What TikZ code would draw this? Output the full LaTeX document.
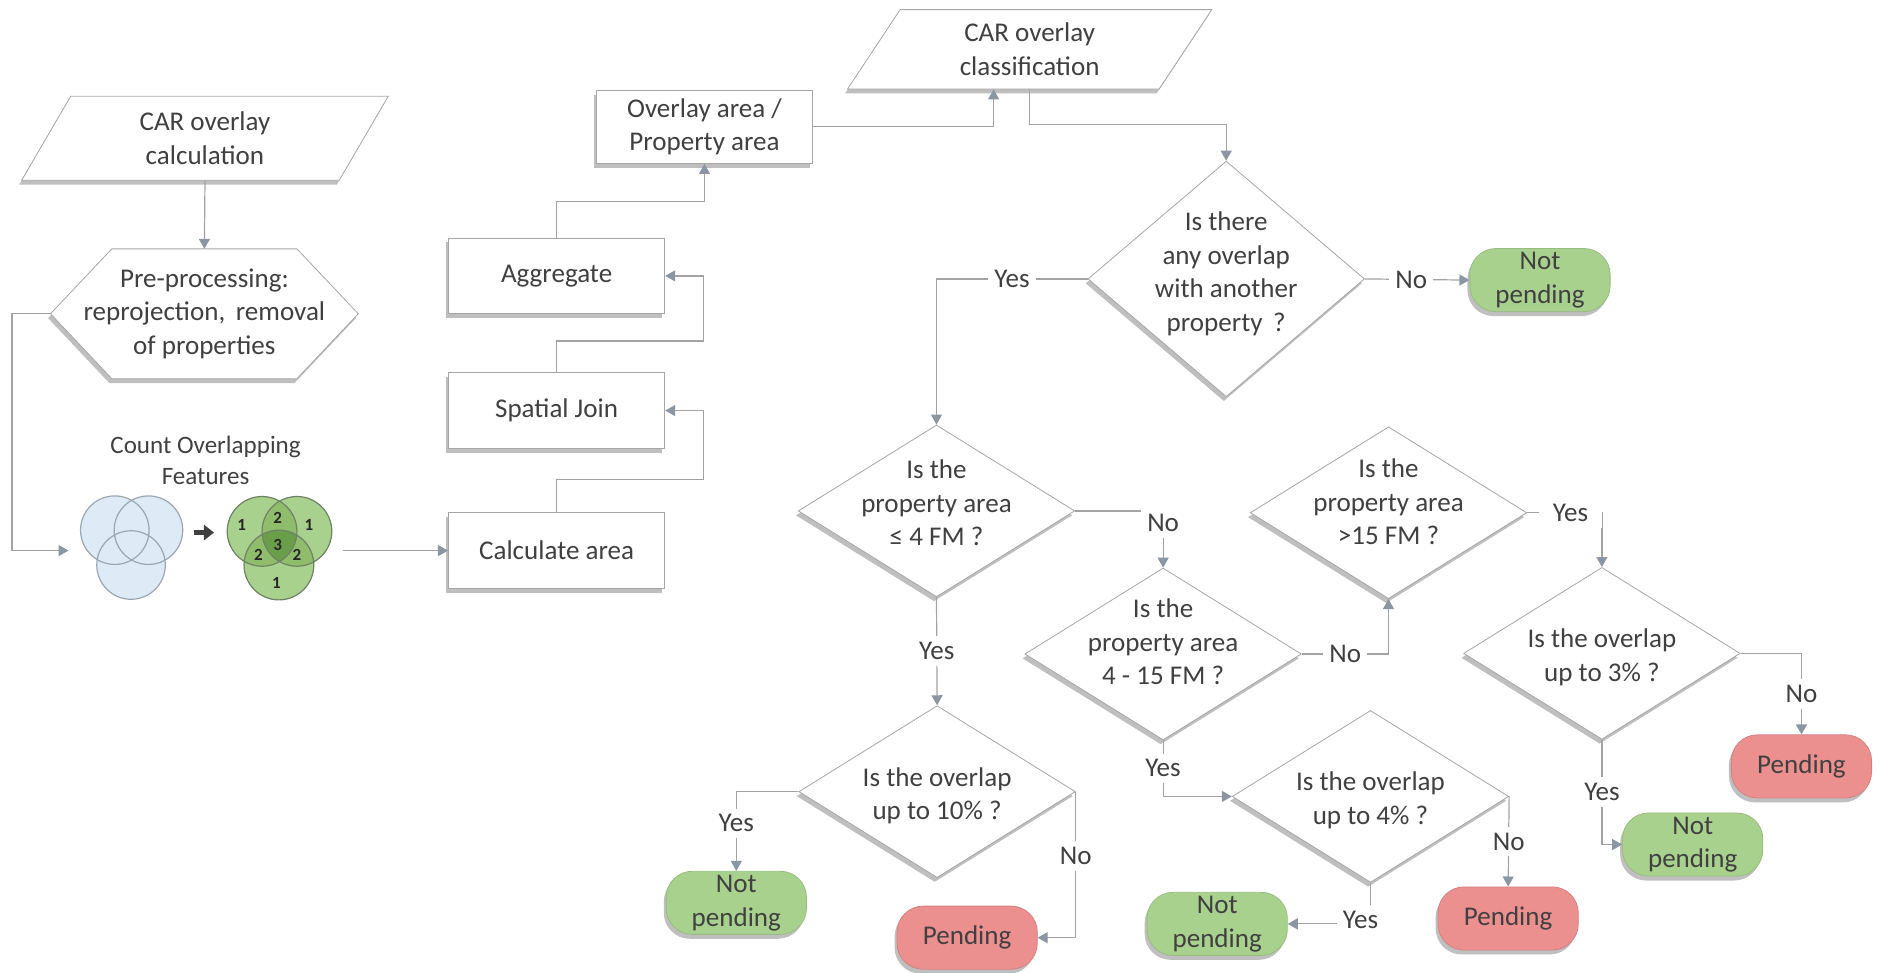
\documentclass[tikz,border=0pt]{standalone}
\usepackage{fontspec}
\setmainfont{Carlito}
\usetikzlibrary{shapes.geometric,arrows.meta,shadows,calc}
\definecolor{txt}{HTML}{404040}
\definecolor{bord}{HTML}{A6A6A6}
\definecolor{linec}{HTML}{A3A3A3}
\definecolor{arrowc}{HTML}{8A96A2}
\definecolor{greenf}{HTML}{A9D18E}
\definecolor{redf}{HTML}{EC8F8F}
\definecolor{bluef}{HTML}{DEEBF7}
\definecolor{blueb}{HTML}{9AA7B3}
\definecolor{gone}{HTML}{A9D18E}
\definecolor{gtwo}{HTML}{8FBD6C}
\definecolor{gthree}{HTML}{6B9E4A}
\definecolor{gbord}{HTML}{6E8264}
\begin{document}
\begin{tikzpicture}[x=0.6pt,y=-0.6pt,
  font=\fontsize{13.5}{16.8}\selectfont, text=txt,
  shad/.style={drop shadow={shadow xshift=-1.2pt,shadow yshift=-2.2pt,fill=black,opacity=.25}},
  box/.style={rectangle, draw=bord, fill=white, shad, minimum width=108pt, minimum height=37.8pt, align=center, inner sep=0pt},
  para/.style={trapezium, trapezium stretches body, draw=bord, fill=white, shad, align=center, inner sep=0pt},
  dia/.style={diamond, draw=bord, fill=white, shad, minimum width=138pt, minimum height=85.8pt, inner sep=0pt},
  dtext/.style={align=center},
  term/.style={rectangle, rounded corners=13pt, minimum width=70pt, minimum height=31.5pt, align=center, inner sep=0pt, shad},
  gterm/.style={term, fill=greenf, draw=greenf!90!black},
  rterm/.style={term, fill=redf, draw=redf!90!black},
  conn/.style={draw=linec, line width=0.6pt},
  arr/.style={conn, -{Triangle[length=5pt,width=5.5pt,color=arrowc]}},
  lbl/.style={fill=white, inner sep=3pt},
  num/.style={font=\fontsize{8.5}{10}\selectfont\bfseries, text=black!85, inner sep=0pt},
]
\useasboundingbox (0,0) rectangle (1568,809);

% left column
\node[para, trapezium left angle=47, trapezium right angle=133, minimum width=183pt, minimum height=42pt] (calc1) at (170.5,115) {CAR overlay\\calculation};
\coordinate (hexc) at (170,261);
\coordinate (hexW) at ($(hexc)+(-128,0)$);
\coordinate (hexN) at ($(hexc)+(0,-54)$);
\filldraw[draw=bord, fill=white, shad] (hexW) -- ($(hexc)+(-77,-54)$) -- ($(hexc)+(77,-54)$) -- ($(hexc)+(128,0)$) -- ($(hexc)+(77,54)$) -- ($(hexc)+(-77,54)$) -- cycle;
\node[align=center, inner sep=0pt] (hex) at (hexc) {Pre-processing:\\reprojection,\, removal\\of properties};
\node[font=\fontsize{12.5}{15.6}\selectfont, align=center] (cof) at (171,383) {Count Overlapping\\Features};

% Venn blue
\fill[bluef] (95.5,441) circle[radius=28.5];
\fill[bluef] (123.5,441) circle[radius=28.5];
\fill[bluef] (109,470) circle[radius=28.5];
\draw[blueb, line width=0.6pt] (95.5,441) circle[radius=28.5] (123.5,441) circle[radius=28.5] (109,470) circle[radius=28.5];
% small black arrow
\coordinate (va) at (161,443);
\coordinate (vb) at (178,443);
\draw[line width=2.6pt, draw=black!75, -{Triangle[length=5pt,width=7.5pt,color=black!75]}] (va) -- (vb);
% Venn green
\fill[gone] (218,442) circle[radius=29];
\fill[gone] (247,442) circle[radius=29];
\fill[gone] (232,470) circle[radius=29];
\begin{scope}
  \clip (218,442) circle[radius=29];
  \fill[gtwo] (247,442) circle[radius=29];
  \fill[gtwo] (232,470) circle[radius=29];
\end{scope}
\begin{scope}
  \clip (247,442) circle[radius=29];
  \fill[gtwo] (232,470) circle[radius=29];
\end{scope}
\begin{scope}
  \clip (218,442) circle[radius=29];
  \clip (247,442) circle[radius=29];
  \fill[gthree] (232,470) circle[radius=29];
\end{scope}
\draw[gbord, line width=0.6pt] (218,442) circle[radius=29] (247,442) circle[radius=29] (232,470) circle[radius=29];
\node[num] (n1) at (201,437) {1};
\node[num] (n2) at (231,431) {2};
\node[num] (n3) at (257,437) {1};
\node[num] (n4) at (215,462) {2};
\node[num] (n5) at (231,453) {3};
\node[num] (n6) at (247,462) {2};
\node[num] (n7) at (230,485) {1};
\coordinate (vennL) at (57,458);
\coordinate (vennR) at (285,458);

% process boxes
\node[box] (agg) at (463,229.5) {Aggregate};
\node[box] (spatial) at (463,341.5) {Spatial Join};
\node[box] (calc) at (463,458) {Calculate area};
\node[box, minimum height=36.6pt] (overlay) at (586,105.5) {Overlay area /\\Property area};
\node[para, trapezium left angle=45, trapezium right angle=135, minimum width=181.8pt, minimum height=39.6pt] (class) at (856.5,41) {CAR overlay\\classification};

% decisions
\node[dia, minimum height=117.6pt] (d1) at (1020,232) {};
\node[dtext, yshift=2.5pt] (t1) at (d1.center) {Is there\\any overlap\\with another\\property\, ?};
\node[dia] (d2) at (779,425) {};
\node[dtext, yshift=4pt] (t2) at (d2.center) {Is the\\property area\\≤ 4 FM ?};
\node[dia] (d3) at (967.5,544) {};
\node[dtext, yshift=6pt] (t3) at (d3.center) {Is the\\property area\\4 - 15 FM ?};
\node[dia] (d4) at (1155,426.5) {};
\node[dtext, yshift=5.5pt] (t4) at (d4.center) {Is the\\property area\\>15 FM ?};
\node[dia] (d5) at (1332.5,543.5) {};
\node[dtext, yshift=-2pt] (t5) at (d5.center) {Is the overlap\\up to 3\% ?};
\node[dia] (d6) at (1140,662.5) {};
\node[dtext, yshift=-2pt] (t6) at (d6.center) {Is the overlap\\up to 4\% ?};
\node[dia] (d7) at (779.5,658.5) {};
\node[dtext, yshift=-2pt] (t7) at (d7.center) {Is the overlap\\up to 10\% ?};

% terminals
\node[gterm] (np1) at (1281,233) {Not\\pending};
\node[gterm] (np2) at (1408,702.5) {Not\\pending};
\node[gterm] (np3) at (1012.5,768.5) {Not\\pending};
\node[gterm] (np4) at (612.5,751) {Not\\pending};
\node[rterm] (pe1) at (804.5,780) {Pending};
\node[rterm] (pe2) at (1498.5,637.5) {Pending};
\node[rterm] (pe3) at (1254.5,764) {Pending};

% connectors left part
\draw[arr] (calc1.south) -- (hexN);
\draw[arr] (hexW) -- ++(-32,0) |- (vennL);
\draw[arr] (vennR) -- (calc.west);
\draw[arr] (calc.north) -- ++(0,-27) -| ($(spatial.east)+(32,0)$) -- (spatial.east);
\draw[arr] (spatial.north) -- ++(0,-26) -| ($(agg.east)+(32,0)$) -- (agg.east);
\draw[arr] (agg.north) -- ++(0,-30) -| (overlay.south);
\draw[arr] (overlay.east) -| ($(class.south)+(-30,0)$);
\draw[arr] (class.south) -- ++(0,29) -| (d1.north);

% decision connectors
\draw[arr] (d1.east) -- (np1.west) node[lbl, midway, xshift=-3pt] {No};
\draw[arr] (d1.west) -| (d2.north) node[lbl, pos=0.25] {Yes};
\draw[arr] (d2.east) -| (d3.north) node[lbl, pos=0.5, yshift=-6pt] {No};
\draw[arr] (d2.south) -- (d7.north) node[lbl, midway] {Yes};
\draw[arr] (d3.east) -| (d4.south) node[lbl, pos=0.25] {No};
\draw[arr] (d3.south) |- (d6.west) node[lbl, pos=0.25] {Yes};
\draw[arr] (d4.east) -| (d5.north) node[lbl, pos=0.29, inner xsep=7pt] {Yes};
\draw[arr] (d5.east) -| (pe2.north) node[lbl, pos=0.75] {No};
\draw[arr] (d5.south) |- (np2.west) node[lbl, pos=0.25] {Yes};
\draw[arr] (d6.east) -- (pe3.north) node[lbl, midway] {No};
\draw[arr] (d6.south) |- (np3.east) node[lbl, pos=0.5, xshift=-5pt, yshift=2pt] {Yes};
\draw[arr] (d7.west) -| (np4.north) node[lbl, pos=0.7] {Yes};
\draw[arr] (d7.east) |- (pe1.east) node[lbl, pos=0.22] {No};
\end{tikzpicture}
\end{document}
